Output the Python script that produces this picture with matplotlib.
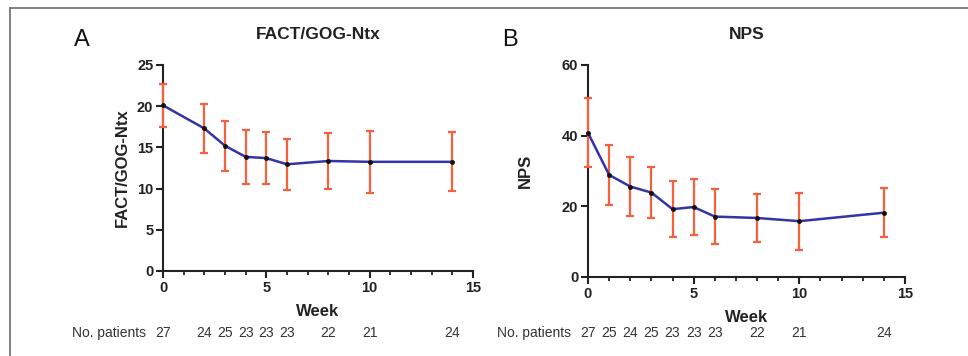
import matplotlib
matplotlib.use("Agg")
import matplotlib.pyplot as plt
from matplotlib.ticker import MultipleLocator
from matplotlib.lines import Line2D

plt.rcParams['font.family'] = ['Liberation Sans', 'DejaVu Sans']

# Panel A: FACT/GOG-Ntx
weeks_a = [0, 2, 3, 4, 5, 6, 8, 10, 14]
mean_a = [20.1, 17.3, 15.2, 13.85, 13.7, 12.95, 13.35, 13.25, 13.25]
err_a = [2.6, 3.0, 3.05, 3.3, 3.2, 3.1, 3.4, 3.75, 3.6]
patients_a = [27, 24, 25, 23, 23, 23, 22, 21, 24]

# Panel B: NPS
weeks_b = [0, 1, 2, 3, 4, 5, 6, 8, 10, 14]
mean_b = [40.8, 28.9, 25.6, 23.9, 19.2, 19.8, 17.1, 16.7, 15.8, 18.2]
err_b = [9.8, 8.6, 8.4, 7.3, 8.0, 7.9, 7.7, 6.9, 8.1, 6.9]
patients_b = [27, 25, 24, 25, 23, 23, 23, 22, 21, 24]

LINE = '#3434a8'
ERR = '#f5603f'
W, H = 968, 356
ROW_Y = 1 - 333 / H

fig = plt.figure(figsize=(W / 100, H / 100), dpi=100)

def px(x0, y0, x1, y1):
    return [x0 / W, 1 - y1 / H, (x1 - x0) / W, (y1 - y0) / H]

def panel(rect, weeks, mean, err, patients, ylim, ystep, title, ylabel, letter, letter_x, ylabel_x):
    ax = fig.add_axes(rect)
    eb = ax.errorbar(weeks, mean, yerr=err, fmt='none', ecolor=ERR, elinewidth=1.6,
                     capsize=3, capthick=1.6, zorder=3)
    for art in eb.get_children():
        art.set_clip_on(False)
    ax.plot(weeks, mean, color=LINE, lw=1.8, zorder=4, clip_on=False)
    ax.plot(weeks, mean, 'o', color='#111111', ms=2.5, zorder=5, clip_on=False)
    ax.set_xlim(0, 15)
    ax.set_ylim(*ylim)
    ax.xaxis.set_major_locator(MultipleLocator(5))
    ax.xaxis.set_minor_locator(MultipleLocator(1))
    ax.yaxis.set_major_locator(MultipleLocator(ystep))
    for s in ('top', 'right'):
        ax.spines[s].set_visible(False)
    for s in ('left', 'bottom'):
        ax.spines[s].set_linewidth(1.5)
        ax.spines[s].set_color('#222222')
        ax.spines[s].set_zorder(2)
    ax.tick_params(which='major', direction='out', length=5, width=1.5, color='#222222',
                   labelsize=10.5, labelcolor='#222222', pad=2)
    ax.tick_params(which='minor', direction='out', length=3, width=1.3, color='#222222')
    for lab in ax.get_xticklabels() + ax.get_yticklabels():
        lab.set_fontweight('bold')
    ax.set_xlabel('Week', fontsize=12, fontweight='bold', color='#222222', labelpad=7)
    ax.set_title(title, fontsize=12.5, fontweight='bold', color='#222222', pad=19)
    ax.set_ylabel(ylabel, fontsize=12, fontweight='bold', color='#222222')
    ax.yaxis.set_label_coords(ylabel_x, 0.5)
    # patients row
    for w, n in zip(weeks, patients):
        ax.annotate(str(n), xy=(w, ROW_Y), xycoords=('data', 'figure fraction'),
                    ha='center', va='center', fontsize=10, color='#333333',
                    annotation_clip=False)
    fig.text(letter_x / W, 1 - 40 / H, letter, fontsize=17, color='#111111',
             ha='center', va='center')
    return ax

axA = panel(px(163, 65, 473, 271), weeks_a, mean_a, err_a, patients_a, (0, 25), 5,
            'FACT/GOG-Ntx', 'FACT/GOG-Ntx', 'A', 82, -0.106)
axB = panel(px(588, 65, 905, 277), weeks_b, mean_b, err_b, patients_b, (0, 60), 20,
            'NPS', 'NPS', 'B', 510, -0.175)

fig.text(72 / W, ROW_Y, 'No. patients', fontsize=10, color='#333333', ha='left', va='center')
fig.text(497 / W, ROW_Y, 'No. patients', fontsize=10, color='#333333', ha='left', va='center')

# frame lines (top and left)
fig.add_artist(Line2D([10 / W, 1], [1 - 8 / H, 1 - 8 / H], color='#777777', lw=1.3,
                      transform=fig.transFigure))
fig.add_artist(Line2D([10 / W, 10 / W], [0, 1 - 8 / H], color='#777777', lw=1.3,
                      transform=fig.transFigure))

fig.savefig('out.png', dpi=100)
